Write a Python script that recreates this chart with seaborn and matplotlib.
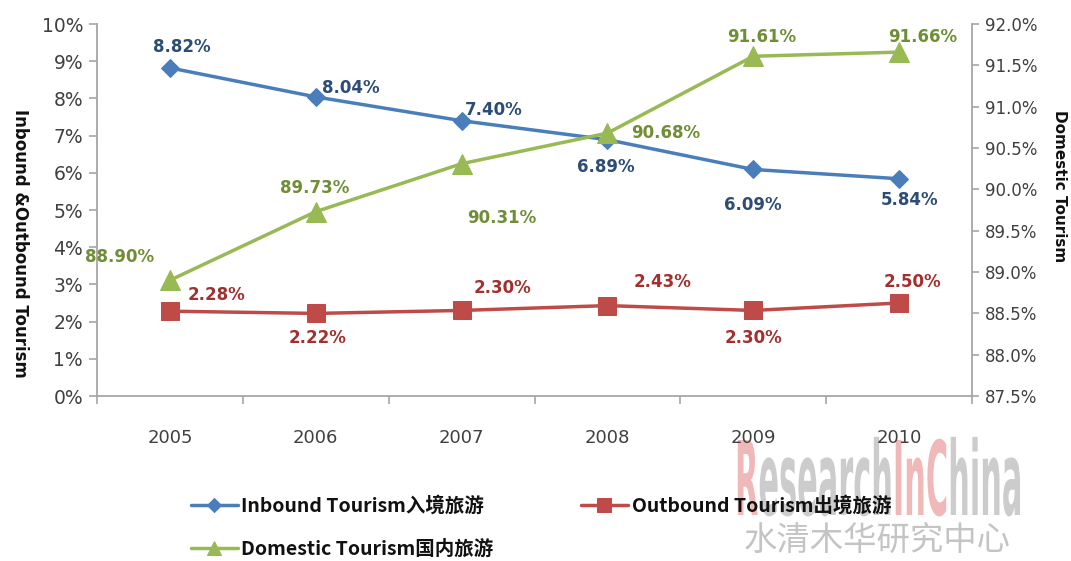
import numpy as np
import pandas as pd
import seaborn as sns
import matplotlib.pyplot as plt
from matplotlib.ticker import FuncFormatter, FixedLocator
from matplotlib.textpath import TextPath
from matplotlib.patches import PathPatch
from matplotlib.font_manager import FontProperties
import matplotlib.transforms as mtransforms

# data
years = [2005, 2006, 2007, 2008, 2009, 2010]
inbound = [8.82, 8.04, 7.40, 6.89, 6.09, 5.84]
outbound = [2.28, 2.22, 2.30, 2.43, 2.30, 2.50]
domestic = [88.90, 89.73, 90.31, 90.68, 91.61, 91.66]

# label offsets (pixels) for each point
off_in = [(12, 21), (35, 9), (32, 11), (-2, -27), (0, -36), (10, -21)]
off_out = [(47, 16), (2, -25), (41, 22), (55, 24), (0, -28), (13, 21)]
off_dom = [(-50, 23), (-1, 24), (40, -54), (58, 0), (8, 19), (24, 15)]

df = pd.DataFrame({'year': years, 'inbound': inbound,
                   'outbound': outbound, 'domestic': domestic})

sns.set_theme(style='white')
plt.rcParams['font.family'] = ['DejaVu Sans']

c_in, c_out, c_dom = '#4A7EBB', '#BE4B48', '#98B954'
t_in, t_out, t_dom = '#2C4D75', '#A0312F', '#6F8E36'
axis_col = '#A6A6A6'
tick_col = '#404040'

fig = plt.figure(figsize=(10.71, 5.61), dpi=100)
ax = fig.add_axes([97 / 1071, 1 - 396 / 561, (972 - 97) / 1071, (396 - 24) / 561])
ax2 = ax.twinx()

sns.lineplot(data=df, x='year', y='inbound', ax=ax, color=c_in, lw=2.5,
             marker='D', markersize=9, markeredgecolor=c_in, legend=False)
sns.lineplot(data=df, x='year', y='outbound', ax=ax, color=c_out, lw=2.5,
             marker='s', markersize=13, markeredgecolor=c_out, legend=False)
sns.lineplot(data=df, x='year', y='domestic', ax=ax2, color=c_dom, lw=2.5,
             marker='^', markersize=14, markeredgecolor=c_dom, legend=False)

lab_kw = dict(textcoords='offset pixels', ha='center', va='center',
              fontsize=12, fontweight='bold')
for x, v, o in zip(years, inbound, off_in):
    ax.annotate(f'{v:.2f}%', (x, v), xytext=o, color=t_in, **lab_kw)
for x, v, o in zip(years, outbound, off_out):
    ax.annotate(f'{v:.2f}%', (x, v), xytext=o, color=t_out, **lab_kw)
for x, v, o in zip(years, domestic, off_dom):
    ax2.annotate(f'{v:.2f}%', (x, v), xytext=o, color=t_dom, **lab_kw)

# axes
ax.set_xlim(2004.5, 2010.5)
ax.set_ylim(0, 10)
ax2.set_ylim(87.5, 92.0)
ax.set_yticks(np.arange(0, 11, 1))
ax.yaxis.set_major_formatter(FuncFormatter(lambda v, p: f'{v:.0f}%'))
ax2.set_yticks(np.arange(87.5, 92.01, 0.5))
ax2.yaxis.set_major_formatter(FuncFormatter(lambda v, p: f'{v:.1f}%'))
ax.set_xticks(years)
ax.set_xticklabels([str(y) for y in years])
ax.xaxis.set_minor_locator(FixedLocator(np.arange(2004.5, 2011, 1)))

ax.tick_params(axis='x', which='major', length=0, pad=24, labelsize=13, labelcolor=tick_col)
ax.tick_params(axis='x', which='minor', bottom=True, length=6, width=1.2, color=axis_col)
ax.tick_params(axis='y', left=True, length=6, width=1.2, color=axis_col, labelsize=13.5, labelcolor=tick_col, pad=4)
ax2.tick_params(axis='y', right=True, length=5, width=1.2, color=axis_col, labelsize=12, labelcolor=tick_col, pad=4)

for a in (ax, ax2):
    a.spines['top'].set_visible(False)
    for s in ('left', 'right', 'bottom'):
        a.spines[s].set_color(axis_col)
        a.spines[s].set_linewidth(1.3)
    a.set_xlabel('')
ax.spines['right'].set_visible(False)
ax2.spines['left'].set_visible(False)
ax2.spines['bottom'].set_visible(False)

ax.set_ylabel('Inbound &Outbound Tourism', rotation=270, fontsize=12, fontweight='bold', color='#111111')
ax.yaxis.set_label_coords(-0.088, 0.41)
ax2.set_ylabel('Domestic Tourism', rotation=270, fontsize=11, fontweight='bold', color='#111111')
ax2.yaxis.set_label_coords(1.1, 0.565)
ax.yaxis.label.set_va('center')
ax2.yaxis.label.set_va('center')

# watermark (behind everything)
wm_font = FontProperties(family='DejaVu Sans', weight='bold')
parts = [('R', '#F0B8B8'), ('esearch', '#CCCCCC'), ('In', '#F0B8B8'),
         ('C', '#F0B8B8'), ('hina', '#CCCCCC')]
full = ''.join(p for p, _ in parts)
full_path = TextPath((0, 0), full, size=100, prop=wm_font)
fw = full_path.get_extents().x1
cap_h = TextPath((0, 0), 'R', size=100, prop=wm_font).get_extents().y1
sx = (1020 - 735) / fw
sy = (515 - 440) / cap_h
prefix = ''
for seg, col in parts:
    tp = TextPath((0, 0), prefix + seg, size=100, prop=wm_font)
    seg_tp = TextPath((0, 0), seg, size=100, prop=wm_font)
    x_off = tp.get_extents().x1 - seg_tp.get_extents().x1
    tr = mtransforms.Affine2D().translate(x_off, 0).scale(sx, sy).translate(735, 561 - 515)
    fig.patches.append(PathPatch(seg_tp, transform=tr, facecolor=col, edgecolor='none', zorder=-5))
    prefix += seg
fig.text(877 / 1071, 1 - 540 / 561, '水清木华研究中心', ha='center', va='center', zorder=-5,
         fontsize=24, color='#C4C4C4', family=['Noto Sans CJK SC', 'DejaVu Sans'], fontweight='light')

# legend (column-major fill: inbound, domestic | outbound)
handles = [ax.lines[0], ax2.lines[0], ax.lines[1]]
labels = ['Inbound Tourism入境旅游', 'Domestic Tourism国内旅游', 'Outbound Tourism出境旅游']
leg = fig.legend(handles, labels, ncol=2, loc='upper left', bbox_to_anchor=(185 / 1071, 1 - 490 / 561),
                 frameon=False, handlelength=2.4, handletextpad=0.2, columnspacing=4.5, markerscale=0.75,
                 labelspacing=1.25, borderaxespad=0.0, borderpad=0.3,
                 prop={'family': ['Noto Sans CJK SC', 'DejaVu Sans'], 'size': 14, 'weight': 'bold'})
for t in leg.get_texts():
    t.set_color('#111111')

fig.savefig('out.png', dpi=100)
